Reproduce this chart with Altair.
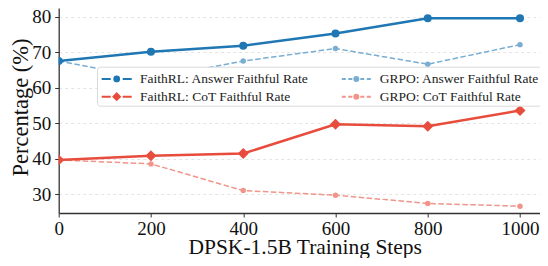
import altair as alt
import pandas as pd

steps = [0, 200, 400, 600, 800, 1000]
faith_answer = [67.5, 70.1, 71.8, 75.2, 79.5, 79.5]
grpo_answer = [67.5, 62.5, 67.5, 71.0, 66.6, 72.1]
faith_cot = [39.7, 40.9, 41.5, 49.75, 49.2, 53.6]
grpo_cot = [39.7, 38.6, 31.1, 29.8, 27.5, 26.7]

FA = "FaithRL: Answer Faithful Rate"
GA = "GRPO: Answer Faithful Rate"
FC = "FaithRL: CoT Faithful Rate"
GC = "GRPO: CoT Faithful Rate"
legend_order = [FA, FC, GA, GC]
legend_colors = ["#1f77b4", "#e74c3c", "#79add2", "#f1948a"]
plot_order = [GA, GC, FA, FC]
plot_colors = ["#79add2", "#f1948a", "#1f77b4", "#e74c3c"]

x_ticks = [0, 200, 400, 600, 800, 1000]
y_ticks = [30, 40, 50, 60, 70, 80]

rows = []
for name, vals in [(FA, faith_answer), (GA, grpo_answer), (FC, faith_cot), (GC, grpo_cot)]:
    for s, v in zip(steps, vals):
        rows.append({"step": s, "value": v, "series": name})
df = pd.DataFrame(rows)

# legend symbol paths (dash - marker - dash)
def circ(r):
    return f"M {-r} 0 A {r} {r} 0 1 0 {r} 0 A {r} {r} 0 1 0 {-r} 0 Z"

p_fa = "M -1.5 0 L -0.6 0 M 0.6 0 L 1.5 0 " + circ(0.24)
p_fc = "M -1.5 0 L -0.6 0 M 0.6 0 L 1.5 0 M 0 -0.32 L 0.32 0 L 0 0.32 L -0.32 0 Z"
p_g = "M -1.45 0 L -1.05 0 M -0.8 0 L -0.4 0 M 0.4 0 L 0.8 0 M 1.05 0 L 1.45 0 " + circ(0.2)
paths = [p_fa, p_fc, p_g, p_g]

x = alt.X("step:Q",
          scale=alt.Scale(domain=[0, 1043.3], nice=False, zero=False),
          axis=alt.Axis(values=x_ticks, title="DPSK-1.5B Training Steps", grid=False,
                        labelFlush=False, labelOverlap=False, labelPadding=2,
                        titleX=246, titleY=40.5, titleAlign="center",
                        titleBaseline="alphabetic", format="d"))
y = alt.Y("value:Q",
          scale=alt.Scale(domain=[24.8, 82.39], nice=False, zero=False),
          axis=alt.Axis(values=y_ticks, title="Percentage (%)", grid=True,
                        gridDash=[3, 3], gridColor="#dddddd", gridWidth=0.8,
                        labelPadding=4, titleX=-38.5, titleY=99, titleAngle=270,
                        titleAlign="center", titleBaseline="middle", titleFontSize=22.5))
color = alt.Color("series:N", scale=alt.Scale(domain=plot_order, range=plot_colors), legend=None)

base = alt.Chart(df).encode(x=x, y=y, color=color)

grpo = alt.FieldOneOfPredicate(field="series", oneOf=[GA, GC])
faith = alt.FieldOneOfPredicate(field="series", oneOf=[FA, FC])

grpo_lines = base.transform_filter(grpo).mark_line(strokeWidth=1.5, strokeDash=[5.5, 2.5], clip=True)
grpo_pts = base.transform_filter(grpo).mark_point(filled=True, size=30, opacity=1, shape="circle", clip=True)
faith_lines = base.transform_filter(faith).mark_line(strokeWidth=2.5, clip=True)
fa_pts = base.transform_filter(alt.FieldEqualPredicate(field="series", equal=FA)).mark_point(
    filled=True, size=64, opacity=1, shape="circle", clip=True)
fc_pts = base.transform_filter(alt.FieldEqualPredicate(field="series", equal=FC)).mark_point(
    filled=True, size=121, opacity=1, shape="diamond", clip=True)

leg = alt.Legend(
    title=None, orient="none", legendX=38.3, legendY=58.7,
    columns=2, columnPadding=28.6, rowPadding=0, padding=1,
    symbolSize=400, symbolOffset=7.7, labelOffset=12.4,
    labelFont="Liberation Serif", labelFontSize=13.5,
    labelColor="#222222", labelLimit=400,
    strokeColor="#d9d9d9", fillColor="white", cornerRadius=3,
    symbolOpacity=1, symbolStrokeWidth=2)

legend_layer = alt.Chart(df).mark_point(filled=True, opacity=0).encode(
    x=alt.X("step:Q"), y=alt.Y("value:Q"),
    fill=alt.Fill("series:N", scale=alt.Scale(domain=legend_order, range=legend_colors), legend=leg),
    stroke=alt.Stroke("series:N", scale=alt.Scale(domain=legend_order, range=legend_colors), legend=leg),
    shape=alt.Shape("series:N", scale=alt.Scale(domain=legend_order, range=paths), legend=leg),
)

chart = alt.layer(grpo_lines, grpo_pts, faith_lines, fa_pts, fc_pts, legend_layer).properties(
    width=481.3, height=205,
    padding={"left": 50.7, "top": 0, "right": 0, "bottom": 45},
    autosize=alt.AutoSizeParams(type="none"),
).configure_view(stroke=None).configure_axis(
    domainColor="#333333", domainWidth=1.3, tickColor="#333333", tickWidth=1, tickSize=4,
    labelFont="Liberation Serif", labelFontSize=19, labelColor="#111111",
    titleFont="Liberation Serif", titleFontSize=21.5, titleFontWeight="normal", titleColor="#111111",
).configure_legend(
    labelFont="Liberation Serif", labelFontSize=13.5, labelLimit=400, labelColor="#222222",
)

chart.save("out.html", embed_options={"renderer": "svg", "actions": False})
